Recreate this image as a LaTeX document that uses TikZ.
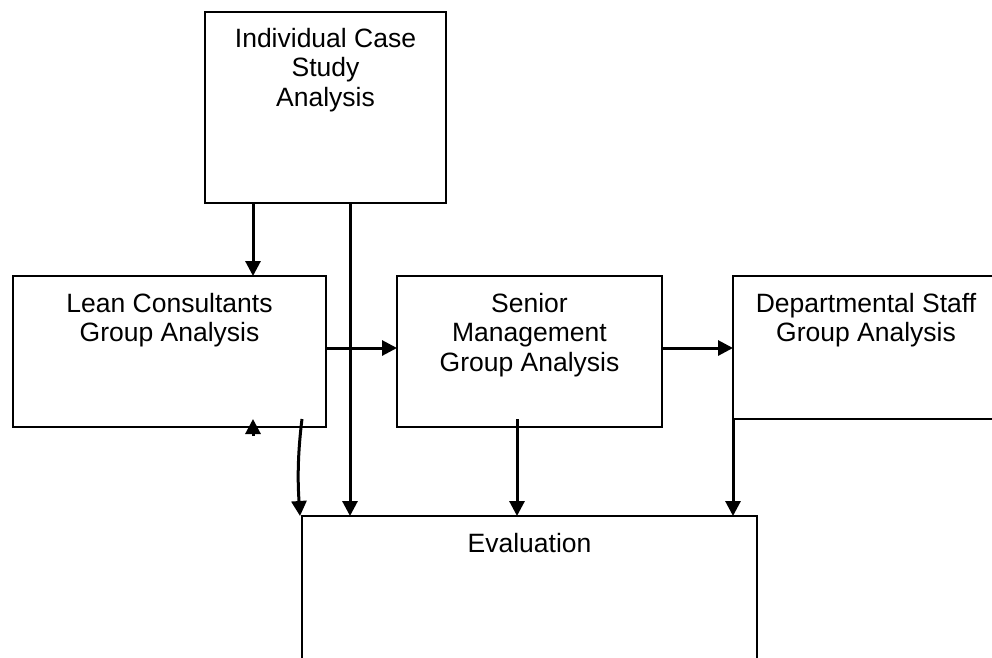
\documentclass[tikz,border=0pt]{standalone}
\usepackage{fontspec}
\setmainfont{Liberation Sans}
\usetikzlibrary{arrows.meta,positioning}

\begin{document}
\begin{tikzpicture}[x=1pt,y=-1pt,
			stage node/.style={draw,line width=2pt,inner sep=0pt,outer sep=0pt,anchor=north west},
			title node/.style={align=center,inner sep=0pt,font=\fontsize{26.5}{29.5}\selectfont},
			flow/.style={line width=3pt,-{Triangle[length=15pt,width=15pt]}}
			]

			\useasboundingbox (0,0) rectangle (992,657);

			% boxes
			\node[stage node,minimum width=241pt,minimum height=191pt] at (205,12) (icsa) {};
			\node[stage node,minimum width=313pt,minimum height=151pt] at (13,276) (lean) {};
			\node[stage node,minimum width=265pt,minimum height=151pt] at (397,276) (senior) {};
			\node[stage node,minimum width=266pt,minimum height=143pt] at (733,276) (dept) {};
			\node[stage node,minimum width=455pt,minimum height=160pt] at (302,516) (eval) {};

			% titles
			\node[title node,below=16pt of icsa.north] (icsa text) {Individual Case\\Study\\Analysis};
			\node[title node,below=17pt of lean.north] (lean text) {Lean Consultants\\Group Analysis};
			\node[title node,below=17pt of senior.north] (senior text) {Senior\\Management\\Group Analysis};
			\node[title node,below=17pt of dept.north] (dept text) {Departmental Staff\\Group Analysis};
			\node[title node,below=17pt of eval.north] (eval text) {Evaluation};

			\coordinate (col a) at (253,0);
			\coordinate (col b) at (350,0);
			\coordinate (col c) at (517,0);
			\coordinate (row) at (0,348);

			\draw[flow] (icsa.south -| col a) -- (lean.north -| col a);
			\draw[flow] (icsa.south -| col b) -- (eval.north -| col b);
			\draw[flow] (lean.east |- row) -- (senior.west |- row);
			\draw[flow] (senior.east |- row) -- (dept.west |- row);
			\draw[flow] ([yshift=8pt]senior.south -| col c) -- (eval.north -| col c);
			\draw[flow] (dept.south west) -- (eval.north -| dept.west);
			\draw[flow] ([yshift=8pt]lean.south -| eval.west) .. controls +(-5,40) and +(-2,-30) .. ([xshift=-2pt]eval.north west);
			\draw[flow] ([yshift=-9pt]lean.south -| col a) -- ([yshift=8pt]lean.south -| col a);
		\end{tikzpicture}
\end{document}
